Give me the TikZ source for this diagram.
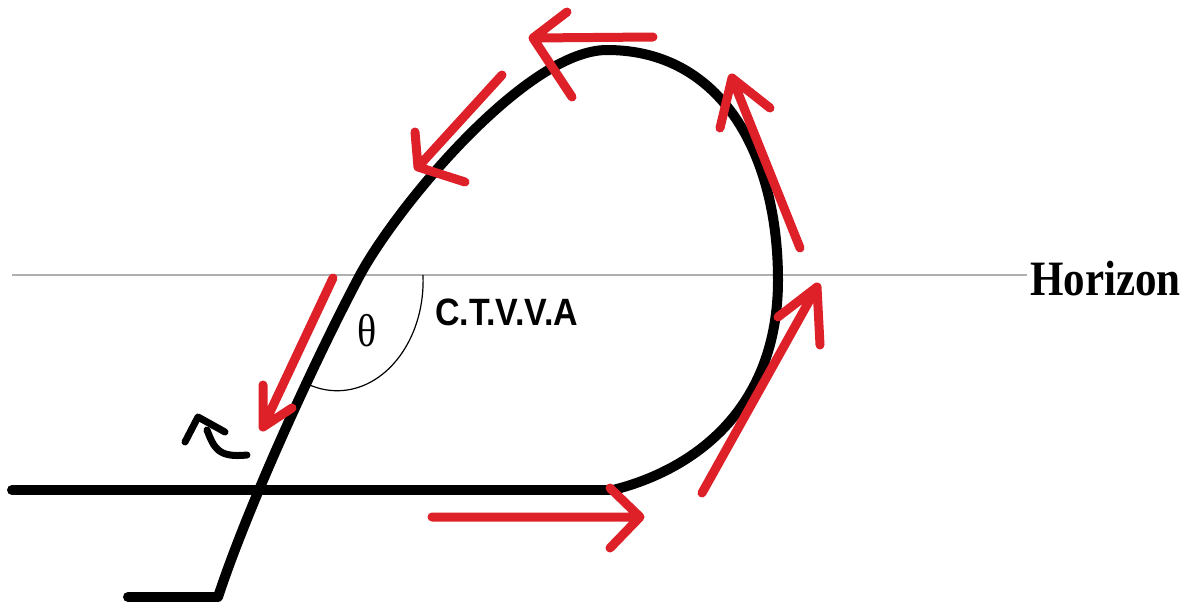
\documentclass[tikz,border=0pt]{standalone}
\usepackage{graphicx}
\usepackage{fontspec}
\newfontfamily\hzfont{Liberation Serif}
\newfontfamily\lblfont{Liberation Sans}
\definecolor{arrred}{RGB}{222,32,40}
\definecolor{hzgray}{RGB}{175,175,175}
\tikzset{
  blackpath/.style={line width=10pt, line cap=round, line join=round, black},
  redarrow/.style={line width=9pt, line cap=round, line join=round, arrred},
  smallarrow/.style={line width=7pt, line cap=round, line join=round, black},
  anglearc/.style={line width=1.2pt, black},
  horizonline/.style={line width=1.5pt, hzgray}
}
\begin{document}
\begin{tikzpicture}[x=1pt,y=-1pt]
\useasboundingbox (0,0) rectangle (1189,602);
% horizon line
\coordinate (hL) at (12,275);
\coordinate (hR) at (1027,275);
\draw[horizonline] (hL) -- (hR);
\node[anchor=base west, inner sep=0] (hz) at (1030,295) {\scalebox{1}[1.15]{\hzfont\bfseries\fontsize{43}{43}\selectfont Horizon}};
% angle arc
\coordinate (arcS) at (423,275);
\draw[anglearc] (arcS) arc[start angle=-3, end angle=114, x radius=86, y radius=110];
\node[anchor=base, inner sep=0] (theta) at (367,346) {\scalebox{1}[1.15]{\hzfont\fontsize{40}{40}\selectfont θ}};
\node[anchor=base west, inner sep=0] (ctv) at (435,325) {\scalebox{1}[1.12]{\lblfont\bfseries\fontsize{34}{34}\selectfont C.T.V.V.A}};
% black flight path
\coordinate (p0) at (218,597);
\coordinate (p1) at (360,275);
\coordinate (p2) at (607,50);
\coordinate (p3) at (778,280);
\coordinate (p4) at (613,490);
\draw[blackpath] (12,490) -- (p4);
\draw[blackpath] (128,597) -- (p0)
  .. controls (250,500) and (320,350) .. (p1)
  .. controls (398,205) and (527,50) .. (p2)
  .. controls (722,50) and (778,155) .. (p3)
  .. controls (778,410) and (693,470) .. (p4);
% small black arrow
\draw[smallarrow] (185,442) -- (198,417) -- (225,432);
\draw[smallarrow] (207,430) .. controls (214,448) and (218,458) .. (247,455);
% red arrows
\draw[redarrow] (432,517) -- (640,517) (610,488) -- (640,517) -- (610,548);
\draw[redarrow] (702,493) -- (817,287) (778,317) -- (817,287) -- (820,345);
\draw[redarrow] (800,248) -- (732,78) (720,128) -- (732,78) -- (770,108);
\draw[redarrow] (653,37) -- (533,38) (567,12) -- (533,38) -- (572,97);
\draw[redarrow] (502,75) -- (418,167) (415,132) -- (418,167) -- (465,182);
\draw[redarrow] (333,278) -- (263,427) (263,385) -- (263,427) -- (292,408);
\end{tikzpicture}
\end{document}
